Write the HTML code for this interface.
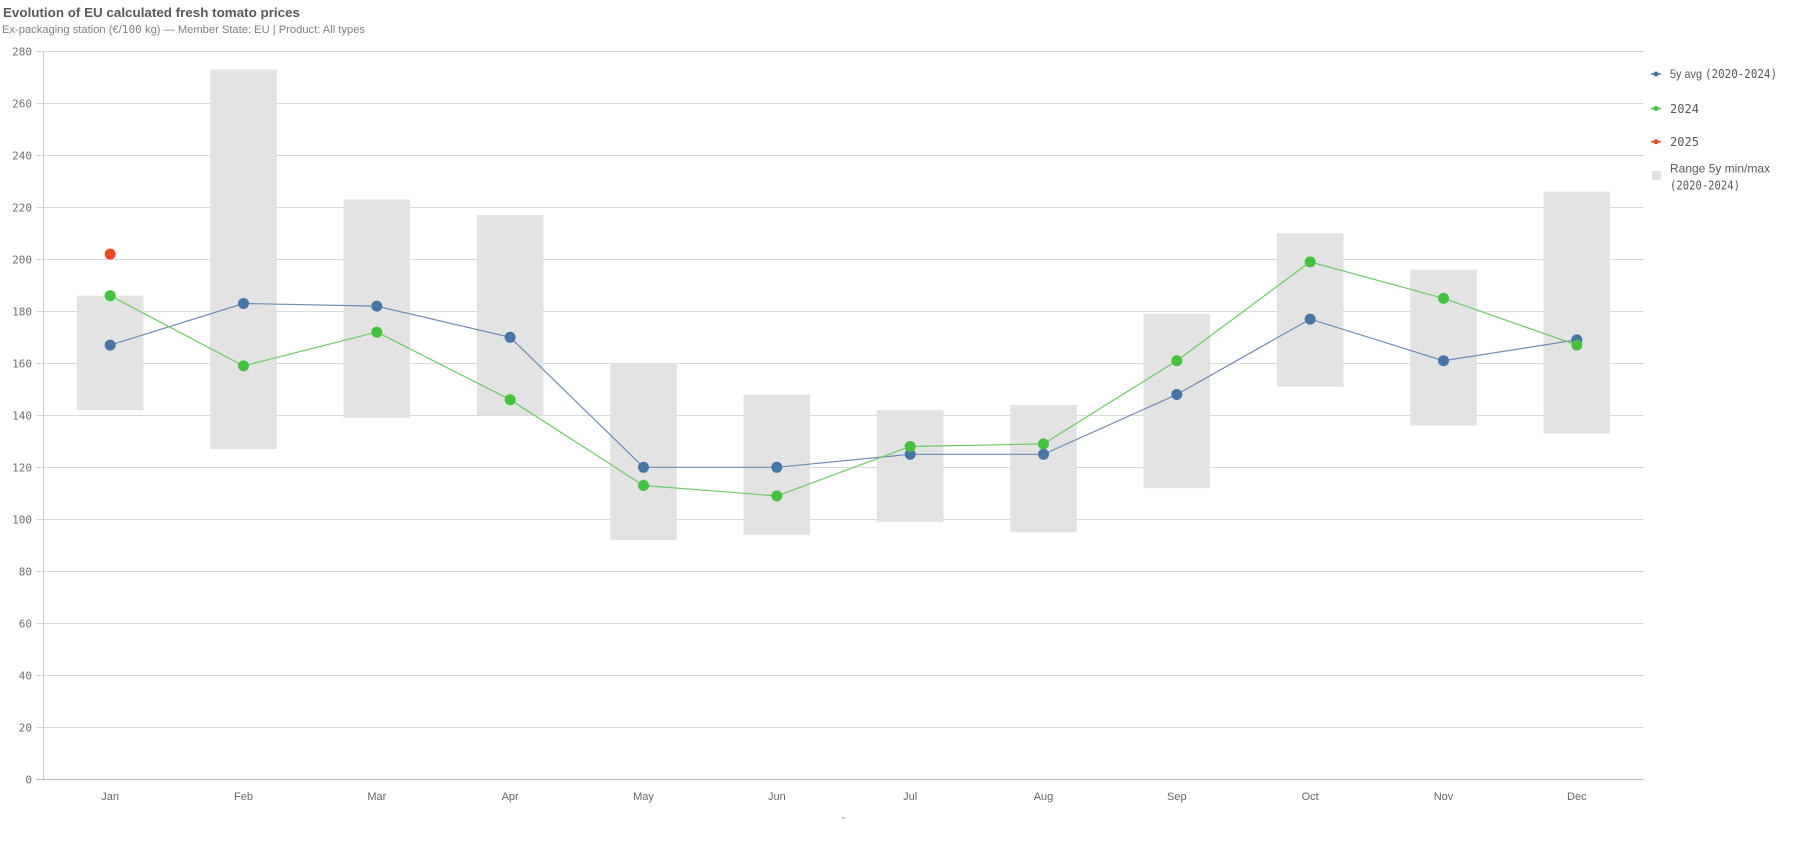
<!DOCTYPE html>
<html>
<head>
<meta charset="utf-8">
<style>
  html,body{margin:0;padding:0;background:#fff;}
  svg{display:block;}
  .mono{font-family:"DejaVu Sans Mono","Liberation Mono",monospace;}
  .sans{font-family:"Liberation Sans",Arial,sans-serif;}
</style>
</head>
<body>
<svg width="1800" height="849" viewBox="0 0 1800 849" xmlns="http://www.w3.org/2000/svg">
  <!-- Titles -->
  <text x="3" y="17" class="sans" font-size="13" font-weight="bold" fill="#595959" textLength="297" lengthAdjust="spacingAndGlyphs">Evolution of EU calculated fresh tomato prices</text>
  <text x="2" y="33" class="sans" font-size="11" fill="#808080" textLength="363" lengthAdjust="spacingAndGlyphs">Ex-packaging station (€/<tspan class="mono">100</tspan> kg) — Member State: EU | Product: All types</text>

  <!-- Gridlines -->
  <g stroke="#d9d9d9" stroke-width="1">
    <line x1="36" x2="1643.5" y1="51.5" y2="51.5"/>
    <line x1="36" x2="1643.5" y1="103.5" y2="103.5"/>
    <line x1="36" x2="1643.5" y1="155.5" y2="155.5"/>
    <line x1="36" x2="1643.5" y1="207.5" y2="207.5"/>
    <line x1="36" x2="1643.5" y1="259.5" y2="259.5"/>
    <line x1="36" x2="1643.5" y1="311.5" y2="311.5"/>
    <line x1="36" x2="1643.5" y1="363.5" y2="363.5"/>
    <line x1="36" x2="1643.5" y1="415.5" y2="415.5"/>
    <line x1="36" x2="1643.5" y1="467.5" y2="467.5"/>
    <line x1="36" x2="1643.5" y1="519.5" y2="519.5"/>
    <line x1="36" x2="1643.5" y1="571.5" y2="571.5"/>
    <line x1="36" x2="1643.5" y1="623.5" y2="623.5"/>
    <line x1="36" x2="1643.5" y1="675.5" y2="675.5"/>
    <line x1="36" x2="1643.5" y1="727.5" y2="727.5"/>
  </g>

  <!-- Y labels -->
  <g class="mono" font-size="11" fill="#707070" text-anchor="end">
    <text x="32" y="55.5">280</text>
    <text x="32" y="107.5">260</text>
    <text x="32" y="159.5">240</text>
    <text x="32" y="211.5">220</text>
    <text x="32" y="263.5">200</text>
    <text x="32" y="315.5">180</text>
    <text x="32" y="367.5">160</text>
    <text x="32" y="419.5">140</text>
    <text x="32" y="471.5">120</text>
    <text x="32" y="523.5">100</text>
    <text x="32" y="575.5">80</text>
    <text x="32" y="627.5">60</text>
    <text x="32" y="679.5">40</text>
    <text x="32" y="731.5">20</text>
    <text x="32" y="783.5">0</text>
  </g>

  <!-- Range bars -->
  <g fill="#e3e3e3">
    <rect x="76.83" y="295.7" width="66.67" height="114.4"/>
    <rect x="210.17" y="69.5" width="66.67" height="379.6"/>
    <rect x="343.5" y="199.5" width="66.67" height="218.4"/>
    <rect x="476.83" y="215.1" width="66.67" height="200.2"/>
    <rect x="610.17" y="363.3" width="66.67" height="176.8"/>
    <rect x="743.5" y="394.5" width="66.67" height="140.4"/>
    <rect x="876.83" y="410.1" width="66.67" height="111.8"/>
    <rect x="1010.17" y="404.9" width="66.67" height="127.4"/>
    <rect x="1143.5" y="313.9" width="66.67" height="174.2"/>
    <rect x="1276.83" y="233.3" width="66.67" height="153.4"/>
    <rect x="1410.17" y="269.7" width="66.67" height="156"/>
    <rect x="1543.5" y="191.7" width="66.67" height="241.8"/>
  </g>

  <!-- Axes -->
  <line x1="43.5" x2="43.5" y1="51" y2="780" stroke="#cccccc" stroke-width="1"/>
  <line x1="36" x2="1643.5" y1="779.5" y2="779.5" stroke="#bdbdbd" stroke-width="1.2"/>

  <!-- X labels -->
  <g class="sans" font-size="11" fill="#666" text-anchor="middle">
    <text x="110.17" y="800">Jan</text>
    <text x="243.5" y="800">Feb</text>
    <text x="376.83" y="800">Mar</text>
    <text x="510.17" y="800">Apr</text>
    <text x="643.5" y="800">May</text>
    <text x="776.83" y="800">Jun</text>
    <text x="910.17" y="800">Jul</text>
    <text x="1043.5" y="800">Aug</text>
    <text x="1176.83" y="800">Sep</text>
    <text x="1310.17" y="800">Oct</text>
    <text x="1443.5" y="800">Nov</text>
    <text x="1576.83" y="800">Dec</text>
    <text x="843.5" y="821" fill="#888">-</text>
  </g>

  <!-- 5y avg line -->
  <polyline fill="none" stroke="#6f8db5" stroke-width="1.2"
    points="110.17,345.1 243.5,303.5 376.83,306.1 510.17,337.3 643.5,467.3 776.83,467.3 910.17,454.3 1043.5,454.3 1176.83,394.5 1310.17,319.1 1443.5,360.7 1576.83,339.9"/>
  <g fill="#4675a8">
    <circle cx="110.17" cy="345.1" r="5.5"/>
    <circle cx="243.5" cy="303.5" r="5.5"/>
    <circle cx="376.83" cy="306.1" r="5.5"/>
    <circle cx="510.17" cy="337.3" r="5.5"/>
    <circle cx="643.5" cy="467.3" r="5.5"/>
    <circle cx="776.83" cy="467.3" r="5.5"/>
    <circle cx="910.17" cy="454.3" r="5.5"/>
    <circle cx="1043.5" cy="454.3" r="5.5"/>
    <circle cx="1176.83" cy="394.5" r="5.5"/>
    <circle cx="1310.17" cy="319.1" r="5.5"/>
    <circle cx="1443.5" cy="360.7" r="5.5"/>
    <circle cx="1576.83" cy="339.9" r="5.5"/>
  </g>

  <!-- 2024 line -->
  <polyline fill="none" stroke="#6ccb66" stroke-width="1.2"
    points="110.17,295.7 243.5,365.9 376.83,332.1 510.17,399.7 643.5,485.5 776.83,495.9 910.17,446.5 1043.5,443.9 1176.83,360.7 1310.17,261.9 1443.5,298.3 1576.83,345.1"/>
  <g fill="#45c13f">
    <circle cx="110.17" cy="295.7" r="5.5"/>
    <circle cx="243.5" cy="365.9" r="5.5"/>
    <circle cx="376.83" cy="332.1" r="5.5"/>
    <circle cx="510.17" cy="399.7" r="5.5"/>
    <circle cx="643.5" cy="485.5" r="5.5"/>
    <circle cx="776.83" cy="495.9" r="5.5"/>
    <circle cx="910.17" cy="446.5" r="5.5"/>
    <circle cx="1043.5" cy="443.9" r="5.5"/>
    <circle cx="1176.83" cy="360.7" r="5.5"/>
    <circle cx="1310.17" cy="261.9" r="5.5"/>
    <circle cx="1443.5" cy="298.3" r="5.5"/>
    <circle cx="1576.83" cy="345.1" r="5.5"/>
  </g>

  <!-- 2025 -->
  <circle cx="110.17" cy="254.1" r="5.5" fill="#ee4a22"/>

  <!-- Legend -->
  <g>
    <line x1="1651" x2="1661" y1="74" y2="74" stroke="#4675a8" stroke-width="1.5"/>
    <circle cx="1656" cy="74" r="2.5" fill="#4675a8"/>
    <text x="1670" y="78" class="sans" font-size="12" fill="#595959" textLength="107" lengthAdjust="spacingAndGlyphs">5y avg <tspan class="mono">(2020-2024)</tspan></text>

    <line x1="1651" x2="1661" y1="108.5" y2="108.5" stroke="#45c13f" stroke-width="1.5"/>
    <circle cx="1656" cy="108.5" r="2.5" fill="#45c13f"/>
    <text x="1670" y="113" class="mono" font-size="12" fill="#595959" textLength="29" lengthAdjust="spacingAndGlyphs">2024</text>

    <line x1="1651" x2="1661" y1="141.7" y2="141.7" stroke="#ee4a22" stroke-width="1.5"/>
    <circle cx="1656" cy="141.7" r="2.5" fill="#ee4a22"/>
    <text x="1670" y="146" class="mono" font-size="12" fill="#595959" textLength="29" lengthAdjust="spacingAndGlyphs">2025</text>

    <rect x="1652" y="171" width="9" height="9" fill="#e3e3e3"/>
    <text x="1670" y="172.5" class="sans" font-size="12" fill="#595959" textLength="100" lengthAdjust="spacingAndGlyphs">Range 5y min/max</text>
    <text x="1670" y="189.5" class="mono" font-size="12" fill="#595959" textLength="70" lengthAdjust="spacingAndGlyphs">(2020-2024)</text>
  </g>
</svg>
</body>
</html>
